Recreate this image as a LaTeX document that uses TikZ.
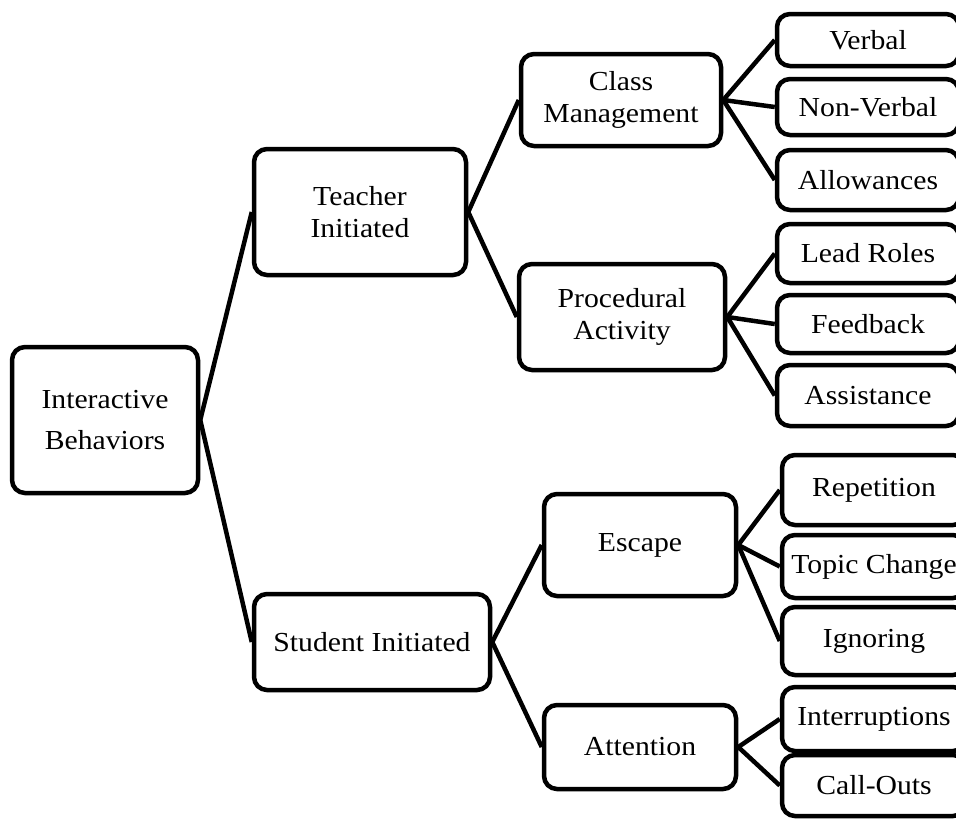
\documentclass[tikz,border=0pt]{standalone}
\usepackage{fontspec}
\setmainfont{Liberation Serif}[FakeStretch=1.08]
\begin{document}
\begin{tikzpicture}[x=1pt,y=-1pt,
  box/.style={draw, line width=4.5pt, rounded corners=13pt, align=center,
    inner sep=0pt, font=\fontsize{27.5}{32}\selectfont},
  link/.style={line width=4.5pt}]
\useasboundingbox (0,0) rectangle (956,820);
\clip (0,0) rectangle (956,820);
% level 0
\node[box, minimum width=186, minimum height=146] (ib) at (105,420) {Interactive\\[9pt]Behaviors};
% level 1
\node[box, minimum width=212, minimum height=126] (ti) at (360,212) {Teacher\\Initiated};
\node[box, minimum width=236, minimum height=96] (si) at (372,642) {Student Initiated};
% level 2
\node[box, minimum width=200, minimum height=92] (cm) at (621,100) {Class\\Management};
\node[box, minimum width=206, minimum height=106] (pa) at (622,317) {Procedural\\Activity};
\node[box, minimum width=192, minimum height=102] (es) at (640,545) {Escape};
\node[box, minimum width=192, minimum height=84] (attn) at (640,747) {Attention};
% level 3
\node[box, minimum width=182, minimum height=52] (vb) at (868,40) {Verbal};
\node[box, minimum width=182, minimum height=56] (nv) at (868,107) {Non-Verbal};
\node[box, minimum width=182, minimum height=60] (al) at (868,180) {Allowances};
\node[box, minimum width=182, minimum height=59] (lr) at (868,253.5) {Lead Roles};
\node[box, minimum width=182, minimum height=58] (fb) at (868,324) {Feedback};
\node[box, minimum width=182, minimum height=61] (as) at (868,395.5) {Assistance};
\node[box, minimum width=184, minimum height=70] (rp) at (874,490) {Repetition};
\node[box, minimum width=184, minimum height=63] (tc) at (874,566.5) {Topic Change};
\node[box, minimum width=184, minimum height=68] (ig) at (874,641) {Ignoring};
\node[box, minimum width=184, minimum height=64] (ir) at (874,719) {Interruptions};
\node[box, minimum width=184, minimum height=61] (co) at (874,785.5) {Call-Outs};
% connectors
\draw[link] (ib.east) -- (ti.west);
\draw[link] (ib.east) -- (si.west);
\draw[link] (ti.east) -- (cm.west);
\draw[link] (ti.east) -- (pa.west);
\draw[link] (si.east) -- (es.west);
\draw[link] (si.east) -- (attn.west);
\draw[link] (cm.east) -- (vb.west);
\draw[link] (cm.east) -- (nv.west);
\draw[link] (cm.east) -- (al.west);
\draw[link] (pa.east) -- (lr.west);
\draw[link] (pa.east) -- (fb.west);
\draw[link] (pa.east) -- (as.west);
\draw[link] (es.east) -- (rp.west);
\draw[link] (es.east) -- (tc.west);
\draw[link] (es.east) -- (ig.west);
\draw[link] (attn.east) -- (ir.west);
\draw[link] (attn.east) -- (co.west);
\end{tikzpicture}
\end{document}
